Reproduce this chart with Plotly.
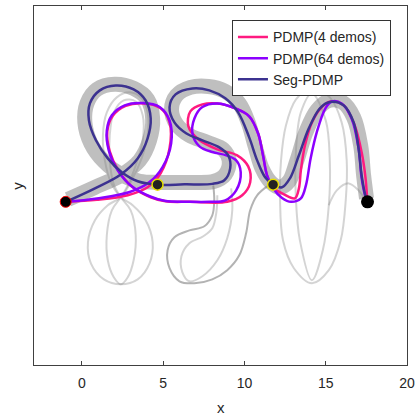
import plotly.graph_objects as go

# ---------------- data (x, y in axis units) ----------------
# Seg-PDMP trajectory (three segments joined at via points)
seg_x = [-1.0, 0.80, 2.39, 3.43, 4.04, 4.23, 3.92, 3.18, 2.08, 1.10, 0.49, 0.43, 0.86, 1.59, 2.45, 3.43, 4.65,
         6.31, 8.02, 8.76, 9.12, 9.00, 8.45, 7.41, 6.43, 5.69, 5.39, 5.76, 6.80, 7.84, 8.82, 9.61, 10.29, 10.78, 11.27, 11.76,
         12.31, 12.80, 13.35, 13.96, 14.64, 15.25, 16.11, 16.72, 17.02, 17.21, 17.45, 17.57]
seg_y = [0.0, 0.83, 1.68, 2.66, 3.89, 5.11, 6.21, 6.89, 7.13, 6.83, 6.03, 4.99, 3.77, 2.66, 1.81, 1.26, 1.05,
         1.07, 1.10, 1.32, 2.05, 2.85, 3.34, 3.77, 4.19, 4.87, 5.79, 6.58, 6.95, 6.83, 6.34, 5.48, 3.95, 2.54, 1.50, 1.05,
         0.89, 1.44, 2.85, 4.50, 5.73, 6.12, 5.91, 4.87, 3.28, 1.62, 0.34, 0.0]

# PDMP learned from 64 demos
p64_x = [-1.0, 0.92, 2.94, 4.16, 4.96, 5.49, 5.39, 4.78, 3.74, 2.63, 1.84, 1.53, 1.65, 2.20, 3.06, 4.16, 5.08,
         6.61, 7.84, 8.82, 9.49, 9.77, 9.49, 8.88, 8.02, 7.23, 6.80, 6.92, 7.41, 8.33, 9.43, 10.29, 10.84, 11.14, 11.39,
         11.76, 12.31, 12.86, 13.47, 13.78, 14.07, 14.45, 14.98, 15.37, 15.98, 16.59, 17.02, 17.21, 17.45, 17.57]
p64_y = [0.0, 0.21, 0.60, 1.21, 2.13, 3.58, 4.98, 5.81, 6.05, 5.91, 5.30, 4.38, 3.15, 1.93, 0.95, 0.34, 0.06,
         0.0, 0.0, 0.09, 0.70, 1.81, 2.54, 2.85, 3.05, 3.40, 4.19, 5.11, 5.81, 6.03, 5.73, 5.24, 4.19, 2.85, 1.62,
         0.83, 0.24, 0.0, 0.21, 1.01, 2.66, 4.27, 5.73, 6.15, 6.03, 5.11, 3.28, 1.44, 0.28, 0.0]

# PDMP learned from 4 demos
p4_x = [-1.0, 0.92, 2.82, 4.04, 4.84, 5.39, 5.39, 4.84, 3.86, 2.69, 1.90, 1.56, 1.71, 2.27, 3.12, 4.23, 5.14,
        6.61, 8.94, 9.86, 10.35, 10.23, 9.55, 8.33, 7.16, 6.55, 6.67, 7.41, 8.33, 9.43, 10.29, 10.84, 11.14, 11.39,
        11.76, 12.43, 13.10, 13.35, 13.47, 13.72, 14.15, 14.76, 15.31, 16.11, 16.78, 17.21, 17.45, 17.54, 17.57]
p4_y = [0.0, 0.12, 0.40, 0.89, 1.75, 3.28, 4.87, 5.73, 6.03, 5.88, 5.27, 4.32, 3.09, 1.87, 0.89, 0.28, 0.03,
        0.0, 0.0, 0.40, 1.19, 2.17, 2.85, 3.21, 3.83, 4.62, 5.54, 5.97, 6.03, 5.73, 5.24, 4.19, 2.85, 1.62,
        0.89, 0.46, 0.21, 0.83, 1.93, 3.45, 4.87, 5.81, 6.15, 5.91, 4.68, 3.03, 1.44, 0.34, 0.0]

# reference (thick grey) trajectory
ref_x = [-0.86, 0.80, 2.39, 3.55, 4.16, 4.35, 4.04, 3.18, 2.02, 0.92, 0.31, 0.18, 0.55, 1.35, 2.39, 3.55, 4.78,
         6.61, 8.14, 8.82, 9.06, 8.70, 7.72, 6.61, 5.82, 5.51, 5.82, 6.67, 7.78, 8.82, 9.68, 10.23, 10.66, 11.08,
         11.63, 12.19, 12.74, 13.23, 13.78, 14.45, 15.25, 16.04, 16.72, 17.15, 17.33, 17.51]
ref_y = [0.15, 0.89, 1.62, 2.54, 3.77, 5.11, 6.28, 6.95, 7.20, 6.89, 6.03, 4.87, 3.58, 2.48, 1.68, 1.26, 1.19,
         1.19, 1.26, 1.68, 2.54, 3.21, 3.64, 4.07, 4.75, 5.66, 6.52, 7.01, 7.07, 6.77, 6.03, 4.87, 3.40, 2.05,
         1.19, 0.89, 1.26, 2.54, 4.26, 5.60, 6.22, 6.09, 5.17, 3.45, 1.62, 0.21]

# light grey demonstrations
demo1_x = [2.39, 1.59, 0.80, 0.37, 0.55, 1.35, 2.39, 3.43, 4.16, 4.35, 3.92, 3.12, 2.39, 1.78, 1.41, 1.29, 1.53,
           2.14, 2.94, 3.67, 4.04, 4.04, 3.67, 3.06, 2.39]
demo1_y = [0.28, -0.21, -1.13, -2.48, -3.77, -4.75, -5.05, -4.75, -3.77, -2.48, -1.13, -0.21, 0.28, 1.19, 2.54,
           4.07, 5.48, 6.40, 6.71, 6.34, 5.48, 4.07, 2.66, 1.32, 0.28]
demo2_x = [2.39, 1.84, 1.53, 1.59, 1.96, 2.39, 2.82, 3.18, 3.31, 3.00, 2.39, 1.96, 1.71, 1.71, 1.96, 2.57, 3.31,
           3.74, 3.74, 3.31, 2.82, 2.39]
demo2_y = [0.28, -0.52, -2.05, -3.58, -4.62, -5.05, -4.62, -3.58, -2.05, -0.52, 0.28, 1.07, 2.54, 4.07, 5.48,
           6.22, 6.15, 5.30, 3.77, 2.23, 1.01, 0.28]
demo3_x = [11.39, 10.78, 10.35, 10.10, 9.68, 8.94, 8.02, 6.92, 6.00, 5.39, 5.27, 5.69, 6.61, 7.53, 8.02, 8.14, 8.08]
demo3_y = [0.95, 0.40, -0.52, -1.93, -3.28, -4.19, -4.75, -4.99, -4.87, -4.07, -2.97, -2.17, -1.75, -1.50,
           -0.83, 0.09, 1.01]
demo4_x = [9.18, 9.25, 8.94, 8.33, 7.41, 6.61, 6.18, 6.12, 6.61, 7.47, 8.02, 8.27, 8.33]
demo4_y = [0.83, -0.52, -2.23, -3.58, -4.56, -4.87, -4.32, -3.34, -2.54, -2.11, -1.62, -0.64, 0.40]
demo5_x = [14.15, 13.17, 12.55, 12.25, 12.19, 12.37, 13.04, 14.15, 15.19, 15.92, 16.23, 16.29, 15.98, 15.25, 14.15]
demo5_y = [7.01, 6.28, 4.68, 2.54, 0.09, -2.36, -4.07, -4.99, -4.19, -2.36, 0.09, 2.54, 4.87, 6.40, 7.01]
demo6_x = [14.15, 13.47, 13.17, 13.17, 13.41, 14.15, 14.82, 15.19, 15.25, 15.00, 14.15]
demo6_y = [6.64, 5.48, 3.15, 0.09, -2.36, -4.81, -2.97, -0.21, 2.54, 4.99, 6.64]
demo7_x = [15.19, 15.68, 16.41, 17.02, 17.45]
demo7_y = [-0.21, 0.70, 1.13, 0.70, 0.09]

start_x, start_y = [-1.0], [0.0]
goal_x, goal_y = [17.57], [0.0]
via_x, via_y = [4.65, 11.76], [1.05, 1.05]

x_ticks = [0, 5, 10, 15, 20]

# ---------------- figure ----------------
fig = go.Figure()

light = "rgba(128,128,128,0.34)"
for dx, dy, col in [(demo1_x, demo1_y, light), (demo2_x, demo2_y, light),
                    (demo3_x, demo3_y, "rgba(128,128,128,0.6)"), (demo4_x, demo4_y, light),
                    (demo5_x, demo5_y, light), (demo6_x, demo6_y, light), (demo7_x, demo7_y, light)]:
    fig.add_trace(go.Scatter(x=dx, y=dy, mode="lines", showlegend=False, hoverinfo="skip",
                             line=dict(color=col, width=2, shape="spline", smoothing=1.0)))

fig.add_trace(go.Scatter(x=ref_x, y=ref_y, mode="lines", showlegend=False, hoverinfo="skip",
                         line=dict(color="rgba(128,128,128,0.5)", width=15, shape="spline", smoothing=1.0)))

fig.add_trace(go.Scatter(x=p4_x, y=p4_y, mode="lines", name="PDMP(4 demos)",
                         line=dict(color="#ff1a80", width=2.5, shape="spline", smoothing=1.0)))
fig.add_trace(go.Scatter(x=p64_x, y=p64_y, mode="lines", name="PDMP(64 demos)",
                         line=dict(color="#8c00ff", width=2.5, shape="spline", smoothing=1.0)))
fig.add_trace(go.Scatter(x=seg_x, y=seg_y, mode="lines", name="Seg-PDMP",
                         line=dict(color="#3c3290", width=2.5, shape="spline", smoothing=1.0)))

fig.add_trace(go.Scatter(x=start_x, y=start_y, mode="markers", showlegend=False,
                         marker=dict(color="black", size=11, line=dict(color="red", width=1))))
fig.add_trace(go.Scatter(x=goal_x, y=goal_y, mode="markers", showlegend=False,
                         marker=dict(color="black", size=13, line=dict(color="black", width=0))))
fig.add_trace(go.Scatter(x=via_x, y=via_y, mode="markers", showlegend=False,
                         marker=dict(color="#222222", size=11, line=dict(color="#e8e000", width=1.5))))

fig.update_layout(
    width=417, height=416,
    margin=dict(l=34, r=10, t=6, b=51, autoexpand=False),
    paper_bgcolor="white", plot_bgcolor="white",
    font=dict(family="Liberation Sans, Arial, sans-serif", color="#262626"),
    legend=dict(x=0.957, y=0.96, xanchor="right", yanchor="top",
                bgcolor="white", bordercolor="#333333", borderwidth=1,
                font=dict(size=14, color="#262626"), tracegroupgap=0),
    xaxis=dict(range=[-2.95, 20.0], tickvals=x_ticks, showgrid=False, zeroline=False, automargin=False,
               showline=True, linecolor="#404040", linewidth=1, mirror="ticks",
               ticks="inside", ticklen=4, tickcolor="#404040", ticklabelstandoff=5,
               tickfont=dict(size=14, color="#262626")),
    yaxis=dict(range=[-10, 12], showgrid=False, zeroline=False, showticklabels=False, automargin=False,
               showline=True, linecolor="#404040", linewidth=1, mirror=True, ticks=""),
    annotations=[
        dict(text="x", xref="paper", yref="paper", x=0.5, y=-0.118, xanchor="center", yanchor="middle",
             showarrow=False, font=dict(size=15, color="#262626")),
        dict(text="y", xref="paper", yref="paper", x=-0.045, y=0.5, xanchor="center", yanchor="middle",
             textangle=-90, showarrow=False, font=dict(size=15, color="#262626")),
    ],
)

fig.write_html("out.html", config={"displayModeBar": False},
               post_script="document.body.style.margin='0';document.body.style.overflow='hidden';")
